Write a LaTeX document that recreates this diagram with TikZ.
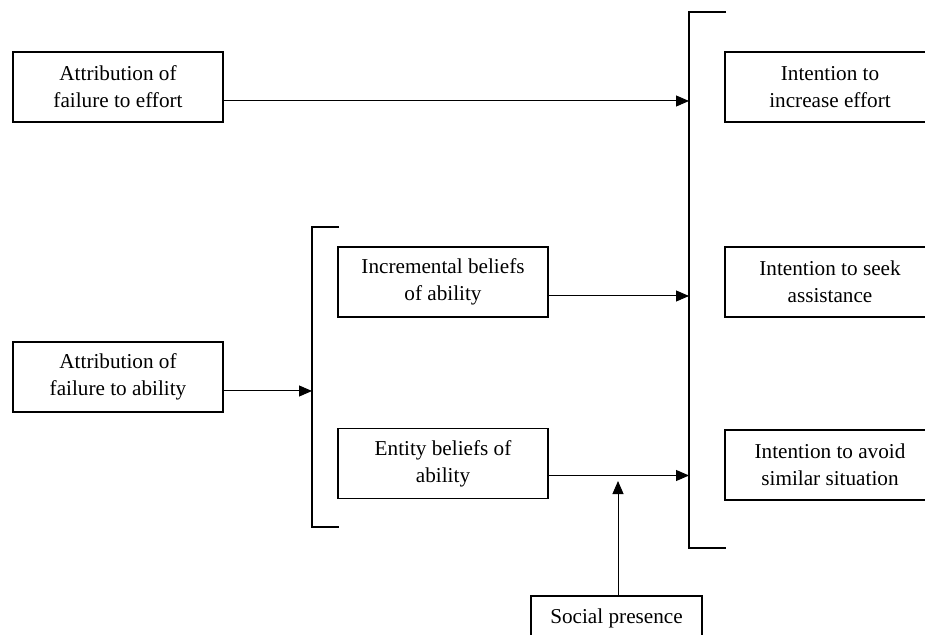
\documentclass[tikz,border=0pt]{standalone}
\usepackage{fontspec}
\setmainfont{Liberation Serif}
\usepackage{tikz}
\usetikzlibrary{arrows.meta}

\begin{document}
\begin{tikzpicture}[x=0.5pt,y=-0.5pt,
		box/.style={draw,line width=0.75pt,minimum width=105pt,minimum height=35pt,inner sep=0pt,align=center,font=\fontsize{10.6}{13.5}\selectfont},
		arr/.style={line width=0.5pt,-{Triangle[length=6.5pt,width=5.5pt]}}]
		\clip (0,0) rectangle (925,635);
		\def\lx{118}
		\def\mx{443}
		\def\rx{830}
		% left column
		\node[box] (effort) at (\lx,87) {Attribution of\\failure to effort};
		\node[box] (ability) at (\lx,377) {Attribution of\\failure to ability};
		% middle column
		\node[box] (incr) at (\mx,282) {Incremental beliefs\\of ability};
		\node[box] (entity) at (\mx,463.5) {Entity beliefs of\\ability};
		\node[box,minimum width=85.5pt,minimum height=22pt] (social) at (616.5,618) {Social presence};
		% right column
		\node[box] (incEff) at (\rx,87) {Intention to\\increase effort};
		\node[box] (seek) at (\rx,282) {Intention to seek\\assistance};
		\node[box] (avoid) at (\rx,465) {Intention to avoid\\similar situation};
		% brackets
		\coordinate (mtop) at (312,227);
		\coordinate (mbot) at (312,527);
		\coordinate (rtop) at (689,12);
		\coordinate (rbot) at (689,548);
		\draw[line width=1pt] ([xshift=13.5pt]mtop) -- (mtop) -- (mbot) -- ([xshift=13.5pt]mbot);
		\draw[line width=0.65pt] ([xshift=18.5pt]rtop) -- (rtop) -- (rbot) -- ([xshift=18.5pt]rbot);
		% arrows
		\draw[arr] ([yshift=-7pt]effort.east) -- ([yshift=-7pt]effort.east -| rtop);
		\draw[arr] ([yshift=-7pt]ability.east) -- ([yshift=-7pt]ability.east -| mtop);
		\draw[arr] ([yshift=-7pt]incr.east) -- ([yshift=-7pt]incr.east -| rtop);
		\draw[arr] ([yshift=-6pt]entity.east) -- ([yshift=-6pt]entity.east -| rtop);
		\coordinate (mod) at (618,481);
		\draw[arr] (social.north -| mod) -- (mod);
\end{tikzpicture}
\end{document}
